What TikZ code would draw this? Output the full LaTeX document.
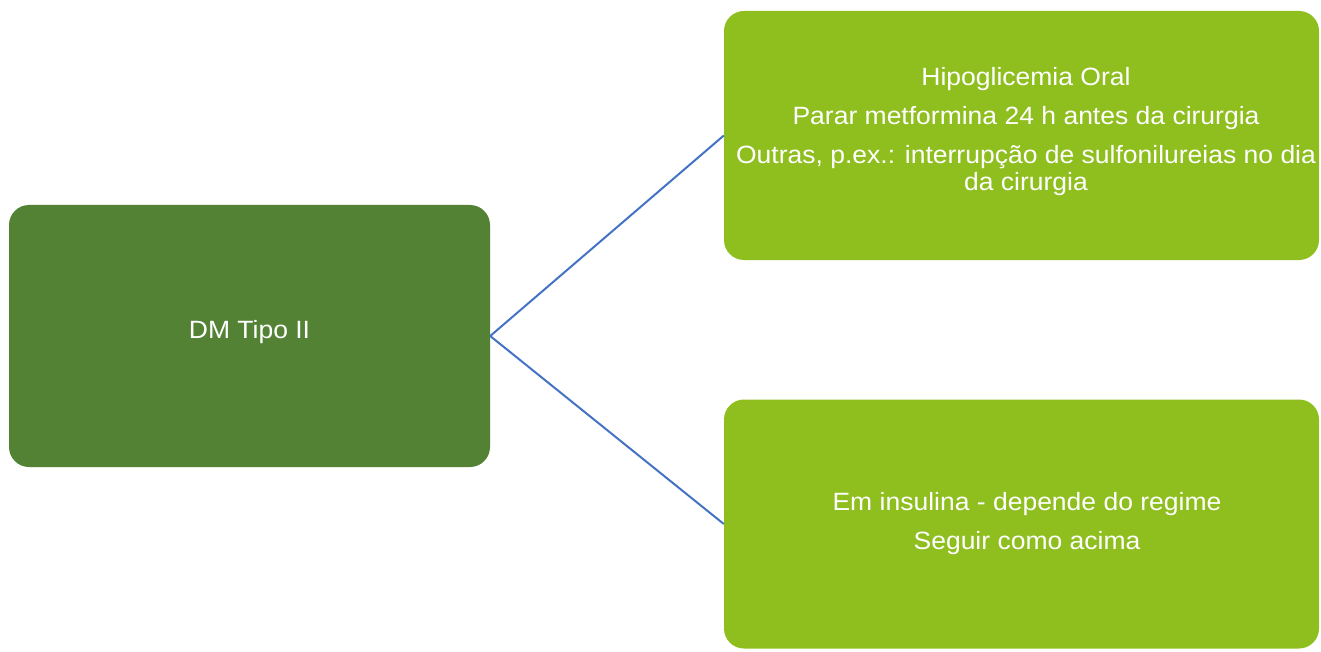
\documentclass[tikz,border=0pt]{standalone}
\usepackage{fontspec}
\setmainfont{Liberation Sans}
\usepackage{graphicx}
\definecolor{darkg}{HTML}{548235}
\definecolor{lightg}{HTML}{8FBE1F}
\definecolor{linkblue}{HTML}{4472C4}
\newcommand{\boxfont}{\fontsize{25}{26.5}\selectfont}
\newcommand{\wtxt}[1]{\scalebox{1.06}[1]{#1}}
\tikzset{
  box/.style={draw=none, rounded corners=20pt, inner sep=0pt, minimum width=#1},
  darkbox/.style={box=481pt, fill=darkg, minimum height=262pt},
  lightbox/.style={box=595pt, fill=lightg, minimum height=249pt},
  lbl/.style={text=white, font=\boxfont, align=center, inner sep=0pt},
  link/.style={draw=linkblue, line width=2pt}
}
\begin{document}
\begin{tikzpicture}[x=1pt,y=-1pt]
\useasboundingbox (0,0) rectangle (1321,652);
\node[darkbox] (dm) at (249.5,336) {};
\node[lightbox] (oral) at (1021.5,135.5) {};
\node[lightbox] (ins) at (1021.5,524) {};
\node[lbl] (dmt) at (249.5,332) {\wtxt{DM Tipo II}};
\node[lbl] (oralt) at (1026,132.5) {\wtxt{\begin{tabular}{@{}c@{}}Hipoglicemia Oral\\[12.5pt] Parar metformina 24 h antes da cirurgia\\[12.5pt] Outras, p.ex.: interrupção de sulfonilureias no dia\\ da cirurgia\end{tabular}}};
\node[lbl] (inst) at (1027,525) {\wtxt{\begin{tabular}{@{}c@{}}Em insulina - depende do regime\\[12.5pt] Seguir como acima\end{tabular}}};
\draw[link] (dm.east) -- (oral.west);
\draw[link] (dm.east) -- (ins.west);
\end{tikzpicture}
\end{document}
